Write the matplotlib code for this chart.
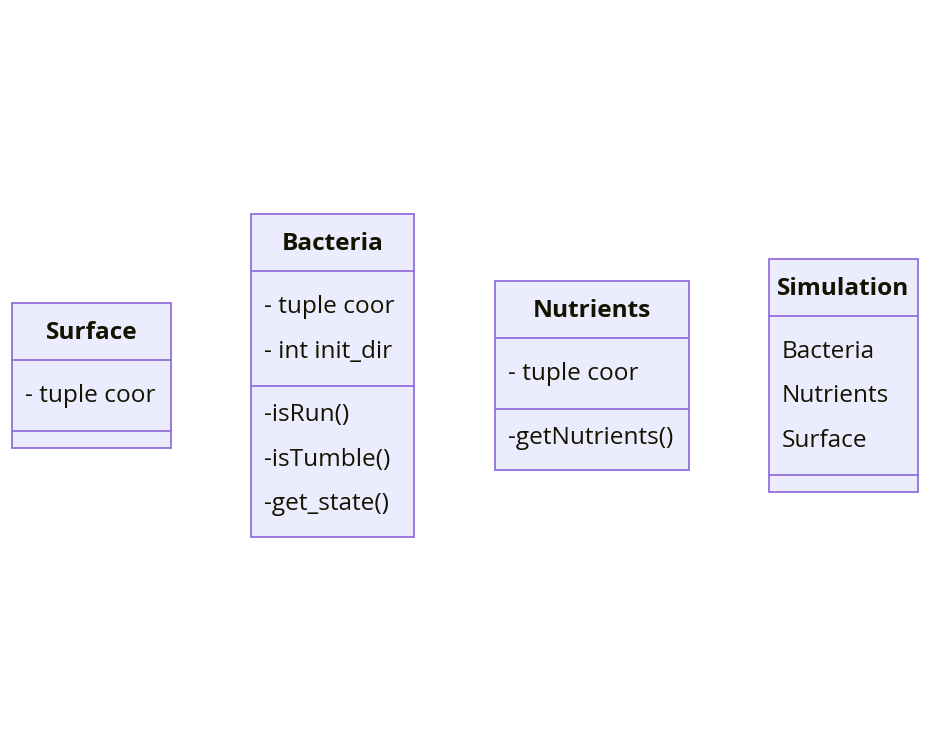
import matplotlib.pyplot as plt
from matplotlib.patches import Rectangle

plt.rcParams["font.family"] = ["Open Sans", "DejaVu Sans"]

# class diagram content
class_names = ["Surface", "Bacteria", "Nutrients", "Simulation"]
attributes = [
    ["- tuple coor"],
    ["- tuple coor", "- int init_dir"],
    ["- tuple coor"],
    ["Bacteria", "Nutrients", "Surface"],
]
methods = [
    [],
    ["-isRun()", "-isTumble()", "-get_state()"],
    ["-getNutrients()"],
    [],
]

# layout (pixels): left, top, width of each box
box_left = [12, 251, 495, 769]
box_top = [303, 214, 281, 259]
box_width = [159, 163, 194, 149]

FILL = "#ECECFF"
EDGE = "#9370DB"
TXT = "#131300"
HEAD_H = 57
LINE_H = 44.5

fig = plt.figure(figsize=(9.32, 7.52), dpi=100)
ax = fig.add_axes([0, 0, 1, 1])
ax.set_xlim(0, 932)
ax.set_ylim(752, 0)
ax.axis("off")

fs = 17.6
for name, attrs, meths, x, y, w in zip(class_names, attributes, methods,
                                        box_left, box_top, box_width):
    attr_h = 27 + 44 * len(attrs)
    meth_h = 17 if not meths else 16 + 45 * len(meths)
    total = HEAD_H + attr_h + meth_h
    ax.add_patch(Rectangle((x, y), w, total, facecolor=FILL, edgecolor=EDGE, lw=1.3))
    y1 = y + HEAD_H
    y2 = y1 + attr_h
    ax.plot([x, x + w], [y1, y1], color=EDGE, lw=1.3)
    ax.plot([x, x + w], [y2, y2], color=EDGE, lw=1.3)
    ax.text(x + w / 2, y + 30, name, ha="center", va="center",
            fontsize=fs, fontweight="bold", color=TXT)
    for i, a in enumerate(attrs):
        ax.text(x + 13, y1 + 36 + i * LINE_H, a, ha="left", va="center",
                fontsize=fs, color=TXT)
    for i, m in enumerate(meths):
        ax.text(x + 13, y2 + 29 + i * LINE_H, m, ha="left", va="center",
                fontsize=fs, color=TXT)

fig.savefig("out.png", dpi=100, facecolor="white")
